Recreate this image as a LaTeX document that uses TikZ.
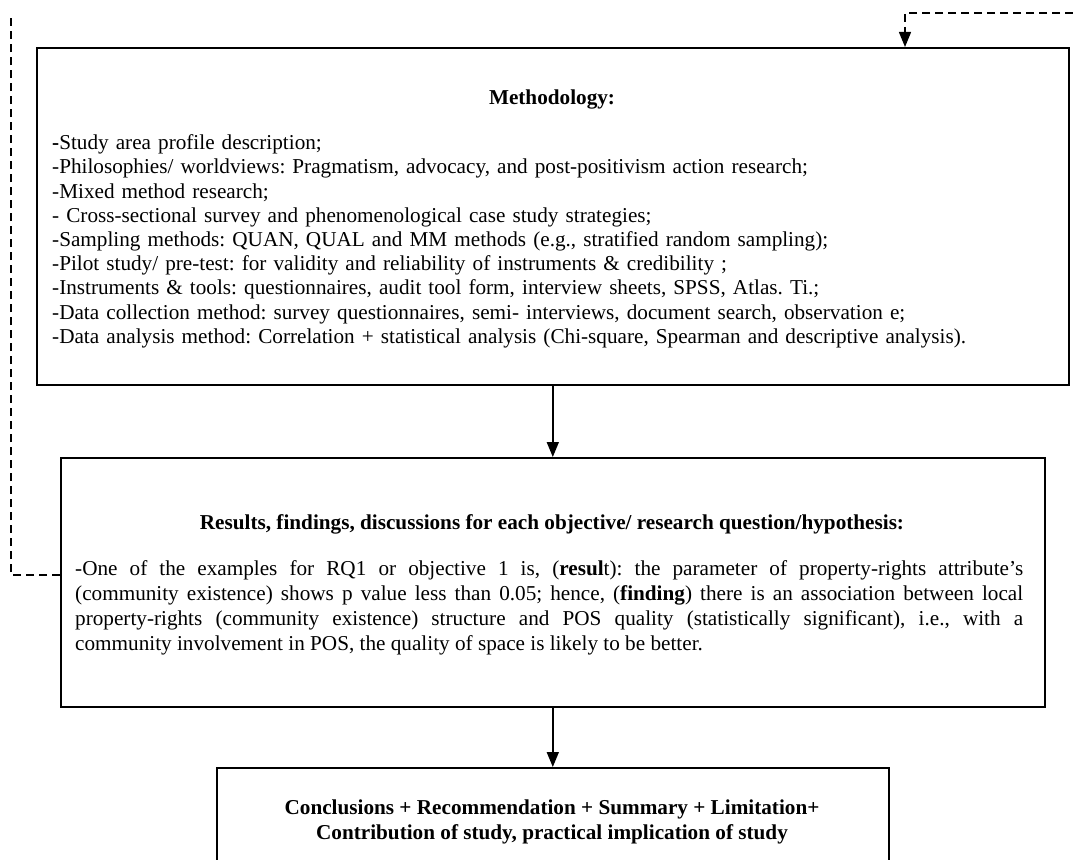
\documentclass[tikz,border=0pt]{standalone}
\usepackage{fontspec}
\setmainfont{Liberation Serif}
\usetikzlibrary{arrows.meta}
\frenchspacing
\begin{document}
\begin{tikzpicture}[x=1pt,y=-1pt,
  box/.style={draw, line width=1.6pt, inner sep=0pt, anchor=north west},
  tip/.style={-{Triangle[length=15pt,width=12pt]}},
  flow/.style={line width=1.6pt, tip},
  loop/.style={line width=1.4pt, dash pattern=on 8pt off 5pt},
  txt/.style={inner sep=0pt, anchor=north west},
  hd/.style={inner sep=0pt, font=\fontsize{21.2}{25}\selectfont\bfseries, anchor=base}]
\useasboundingbox (0,0) rectangle (1073,859);
\clip (0,0) rectangle (1073,859);

% boxes
\node[box, minimum width=1032pt, minimum height=337pt] (meth) at (36,47) {};
\node[box, minimum width=984pt, minimum height=249pt] (res) at (60,457) {};
\node[box, minimum width=672pt, minimum height=140pt] (conc) at (216,767) {};

% methodology text
\node[hd] (methhd) at (552,104) {Methodology:};
\node[txt, text width=1010pt, align=left, font=\fontsize{21.2}{24.2}\selectfont\frenchspacing] (methtx) at (52,134.5) {%
\textbf{-}Study area profile description;\\
-Philosophies/ worldviews: Pragmatism, advocacy, and post-positivism action research;\\
-Mixed method research;\\
- Cross-sectional survey and phenomenological case study strategies;\\
-Sampling methods: QUAN, QUAL and MM methods (e.g., stratified random sampling);\\
-Pilot study/ pre-test: for validity and reliability of instruments \& credibility ;\\
-Instruments \& tools: questionnaires, audit tool form, interview sheets, SPSS, Atlas. Ti.;\\
-Data collection method: survey questionnaires, semi- interviews, document search, observation e;\\
-Data analysis method: Correlation + statistical analysis (Chi-square, Spearman and descriptive analysis).};

% results text
\node[hd] (reshd) at (552,529) {Results, findings, discussions for each objective/ research question/hypothesis:};
\node[txt, text width=948pt, align=justify, font=\fontsize{21.2}{25}\selectfont\frenchspacing] (restx) at (75,560) {%
-One of the examples for RQ1 or objective 1 is, (\textbf{resul}t): the parameter of property-rights attribute's\linebreak
(community existence) shows p value less than 0.05; hence, (\textbf{finding}) there is an association between local\linebreak
property-rights (community existence) structure and POS quality (statistically significant), i.e., with a\linebreak
community involvement in POS, the quality of space is likely to be better.};

% conclusions text
\node[hd, align=center, anchor=north] (conctx) at (552,800) {Conclusions + Recommendation + Summary + Limitation+\\Contribution of study, practical implication of study};

% connectors
\draw[flow] (meth.south -| res.north) -- (res.north);
\draw[flow] (res.south -| conc.north) -- (conc.north);

\coordinate (topin) at (1073,13);
\coordinate (loopin) at (11,16);
\draw[loop, tip] (topin) -| (meth.north west -| 905,0);
\draw[loop] (res.west |- 0,575) -- (11,575) -- (loopin);
\end{tikzpicture}
\end{document}
